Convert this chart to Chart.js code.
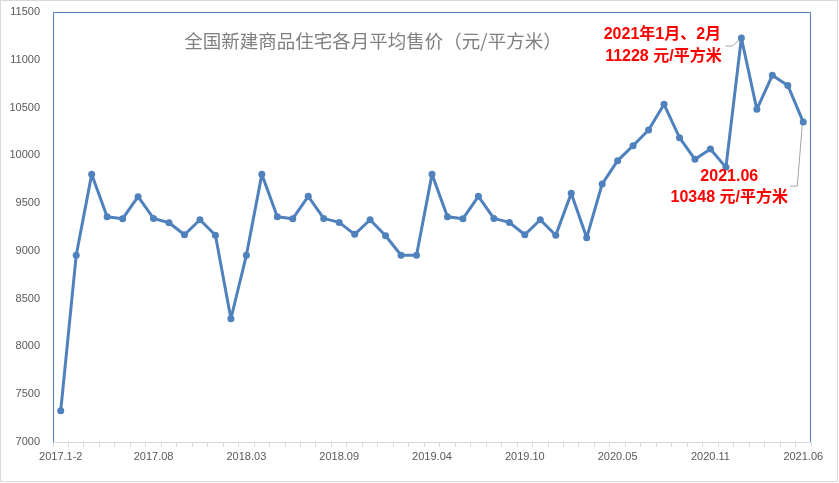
<!DOCTYPE html>
<html>
<head>
<meta charset="utf-8">
<script src="https://cdn.jsdelivr.net/npm/chart.js@4/dist/chart.umd.min.js"></script>
<style>
  body { margin: 0; background: #fff; }
  canvas { display: block; }
</style>
</head>
<body>
<canvas id="priceCanvas" width="839" height="483"></canvas>
<script>
// monthly categories (Jan+Feb reported together)
const months = [
  '2017.1-2', '2017.03', '2017.04', '2017.05', '2017.06', '2017.07', '2017.08', '2017.09', '2017.10', '2017.11', '2017.12',
  '2018.1-2', '2018.03', '2018.04', '2018.05', '2018.06', '2018.07', '2018.08', '2018.09', '2018.10', '2018.11', '2018.12',
  '2019.1-2', '2019.03', '2019.04', '2019.05', '2019.06', '2019.07', '2019.08', '2019.09', '2019.10', '2019.11', '2019.12',
  '2020.1-2', '2020.03', '2020.04', '2020.05', '2020.06', '2020.07', '2020.08', '2020.09', '2020.10', '2020.11', '2020.12',
  '2021.1-2', '2021.03', '2021.04', '2021.05', '2021.06'
];
// yuan per square metre
const prices = [
  7328, 8954, 9801, 9358, 9337, 9567, 9340, 9295, 9169, 9326, 9163,
  8290, 8954, 9801, 9358, 9337, 9571, 9340, 9298, 9173, 9326, 9159,
  8954, 8954, 9801, 9358, 9337, 9571, 9340, 9298, 9169, 9326, 9163,
  9602, 9138, 9700, 9944, 10101, 10265, 10534, 10185, 9958, 10066, 9874,
  11228, 10481, 10837, 10732, 10348
];
const yTicks = [7000, 7500, 8000, 8500, 9000, 9500, 10000, 10500, 11000, 11500];
const chartTitle = '全国新建商品住宅各月平均售价（元/平方米）';
const peakNote = ['2021年1月、2月', '11228 元/平方米'];
const lastNote = ['2021.06', '10348 元/平方米'];

const blue = '#4F81BD';
const grey = '#595959';

const decor = {
  id: 'decor',
  beforeDraw(chart) {
    const c = chart.ctx;
    c.save();
    c.fillStyle = '#fff';
    c.fillRect(0, 0, chart.width, chart.height);
    c.strokeStyle = '#d9d9d9';
    c.lineWidth = 1;
    c.strokeRect(0.5, 0.5, chart.width - 2, chart.height - 2);
    c.restore();
  },
  beforeDatasetsDraw(chart) {
    const a = chart.chartArea;
    const c = chart.ctx;
    c.save();
    c.strokeStyle = blue;
    c.lineWidth = 1;
    c.beginPath();
    c.moveTo(a.left + 0.5, a.bottom);
    c.lineTo(a.left + 0.5, a.top + 0.5);
    c.lineTo(a.right - 0.5, a.top + 0.5);
    c.lineTo(a.right - 0.5, a.bottom);
    c.stroke();
    c.restore();
  },
  afterDatasetsDraw(chart) {
    const c = chart.ctx;
    const pts = chart.getDatasetMeta(0).data;
    const peak = pts[prices.indexOf(Math.max(...prices))];
    const last = pts[pts.length - 1];
    c.save();
    // title
    c.font = '18.5px "Noto Sans CJK SC"';
    c.fillStyle = '#808080';
    c.textAlign = 'center';
    c.textBaseline = 'middle';
    c.fillText(chartTitle, 373, 41);
    // leader lines
    c.strokeStyle = '#a6a6a6';
    c.lineWidth = 1;
    c.beginPath();
    c.moveTo(peak.x - 16, peak.y + 8);
    c.lineTo(peak.x - 9, peak.y + 8);
    c.lineTo(peak.x - 2, peak.y + 2);
    c.moveTo(last.x - 13, last.y + 64);
    c.lineTo(last.x - 6, last.y + 64);
    c.lineTo(last.x - 1, last.y + 3);
    c.stroke();
    // notes
    c.font = 'bold 16px "Liberation Sans", "Noto Sans CJK SC"';
    c.fillStyle = '#ff0000';
    c.fillText(peakNote[0], peak.x - 79, peak.y - 3);
    c.fillText(peakNote[1], peak.x - 78, peak.y + 19);
    c.fillText(lastNote[0], last.x - 74, last.y + 55);
    c.fillText(lastNote[1], last.x - 74, last.y + 76);
    c.restore();
  }
};

new Chart(document.getElementById('priceCanvas').getContext('2d'), {
  type: 'line',
  data: {
    labels: months,
    datasets: [{
      data: prices,
      borderColor: blue,
      backgroundColor: blue,
      borderWidth: 3,
      borderJoinStyle: 'round',
      borderCapStyle: 'round',
      pointRadius: 3.5,
      pointBackgroundColor: blue,
      pointBorderWidth: 0,
      tension: 0
    }]
  },
  options: {
    responsive: false,
    devicePixelRatio: 1,
    animation: false,
    layout: { padding: { left: 0, top: 12, right: 28, bottom: 11 } },
    plugins: {
      legend: { display: false },
      tooltip: { enabled: false },
      title: { display: false }
    },
    scales: {
      x: {
        offset: true,
        grid: { drawOnChartArea: false, drawTicks: true, tickLength: 5, color: '#d9d9d9', offset: true },
        border: { display: true, color: '#d9d9d9' },
        ticks: {
          autoSkip: false,
          maxRotation: 0,
          minRotation: 0,
          padding: 3,
          color: grey,
          font: { family: 'Liberation Sans', size: 11 },
          callback: (v, i) => (i % 6 === 0 ? months[i] : '')
        },
        afterFit(s) { s.height = 30; s.paddingLeft = 0; s.paddingRight = 0; }
      },
      y: {
        min: yTicks[0],
        max: yTicks[yTicks.length - 1],
        grid: { display: false, drawTicks: false },
        border: { display: false },
        afterBuildTicks(s) { s.ticks = yTicks.map(v => ({ value: v })); },
        ticks: {
          padding: 13,
          color: grey,
          font: { family: 'Liberation Sans', size: 11 },
          callback: v => String(v)
        },
        afterFit(s) { s.width = 53; s.paddingTop = 0; s.paddingBottom = 0; }
      }
    }
  },
  plugins: [decor]
});
</script>
</body>
</html>
